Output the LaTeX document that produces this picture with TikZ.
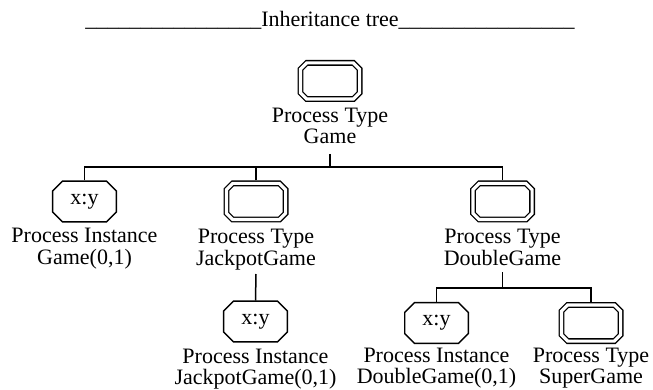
\documentclass[tikz,border=0pt]{standalone}
\usepackage{fontspec}
\setmainfont{Liberation Serif}
\usetikzlibrary{calc}
\newcommand\usbar{\textunderscore\textunderscore\textunderscore\textunderscore
  \textunderscore\textunderscore\textunderscore\textunderscore
  \textunderscore\textunderscore\textunderscore\textunderscore
  \textunderscore\textunderscore\textunderscore\textunderscore}
% octagon drawn inside node #1, inset by #2, corners cut by #3
\newcommand\octpath[3]{%
  ($(#1.north west)+(#2+#3,#2)$) -- ($(#1.north east)+(-#2-#3,#2)$) --
  ($(#1.north east)+(-#2,#2+#3)$) -- ($(#1.south east)+(-#2,-#2-#3)$) --
  ($(#1.south east)+(-#2-#3,-#2)$) -- ($(#1.south west)+(#2+#3,-#2)$) --
  ($(#1.south west)+(#2,-#2-#3)$) -- ($(#1.north west)+(#2,#2+#3)$) -- cycle}
\begin{document}
\begin{tikzpicture}[x=1pt,y=-1pt,
  txt/.style={font=\fontsize{22}{21}\selectfont},
  lbl/.style={txt, align=center, inner sep=0pt, anchor=base},
  box/.style={rectangle, minimum width=65pt, minimum height=42pt,
    inner sep=0pt, outer sep=0pt, txt},
  typeline/.style={double, line width=1.3pt, double distance=3.2pt},
  instline/.style={line width=1.45pt},
  link/.style={line width=1.5pt}
]
\useasboundingbox (0,0) rectangle (653,390);

% heading
\node[txt, anchor=base, inner sep=0pt] (title) at (330,27) {\usbar Inheritance tree\usbar};

% root type
\node[box] (game) at (330,81) {};
\node[lbl] (gameL) at (330,144) {Process Type\\Game};

% first level
\node[box] (inst1) at (84.5,201.5) {x:y};
\node[lbl] (inst1L) at (84.5,264) {Process Instance\\Game(0,1)};
\node[box] (jack) at (256,201.5) {};
\node[lbl] (jackL) at (256,265) {Process Type\\JackpotGame};
\node[box] (dbl) at (502.5,201.5) {};
\node[lbl] (dblL) at (502.5,265) {Process Type\\DoubleGame};

% second level
\node[box] (inst2) at (255.5,321.5) {x:y};
\node[lbl] (inst2L) at (255.5,384) {Process Instance\\JackpotGame(0,1)};
\node[box] (inst3) at (436.5,323) {x:y};
\node[lbl] (inst3L) at (436.5,383) {Process Instance\\DoubleGame(0,1)};
\node[box] (sup) at (591,323) {};
\node[lbl] (supL) at (591,383) {Process Type\\SuperGame};

% outlines: double octagons for types, single octagons for instances
\foreach \n in {game,jack,dbl,sup} \draw[typeline] \octpath{\n}{2.9}{6.3};
\foreach \n in {inst1,inst2,inst3} \draw[instline] \octpath{\n}{0.72}{9.7};

% connectors
\coordinate (j1) at (330,167);
\coordinate (j2) at (502.5,288);
\draw[link] ($(gameL.base)+(0,10)$) -- (j1);
\draw[link] (inst1.north) |- (j1) -| (dbl.north);
\draw[link] (jack.north) -- (jack.north |- j1);
\draw[link] ($(jackL.base)+(0,9)$) -- (inst2.north);
\draw[link] ($(dblL.base)+(0,7)$) -- (j2);
\draw[link] (inst3.north) |- (j2) -| (sup.north);
\end{tikzpicture}
\end{document}
